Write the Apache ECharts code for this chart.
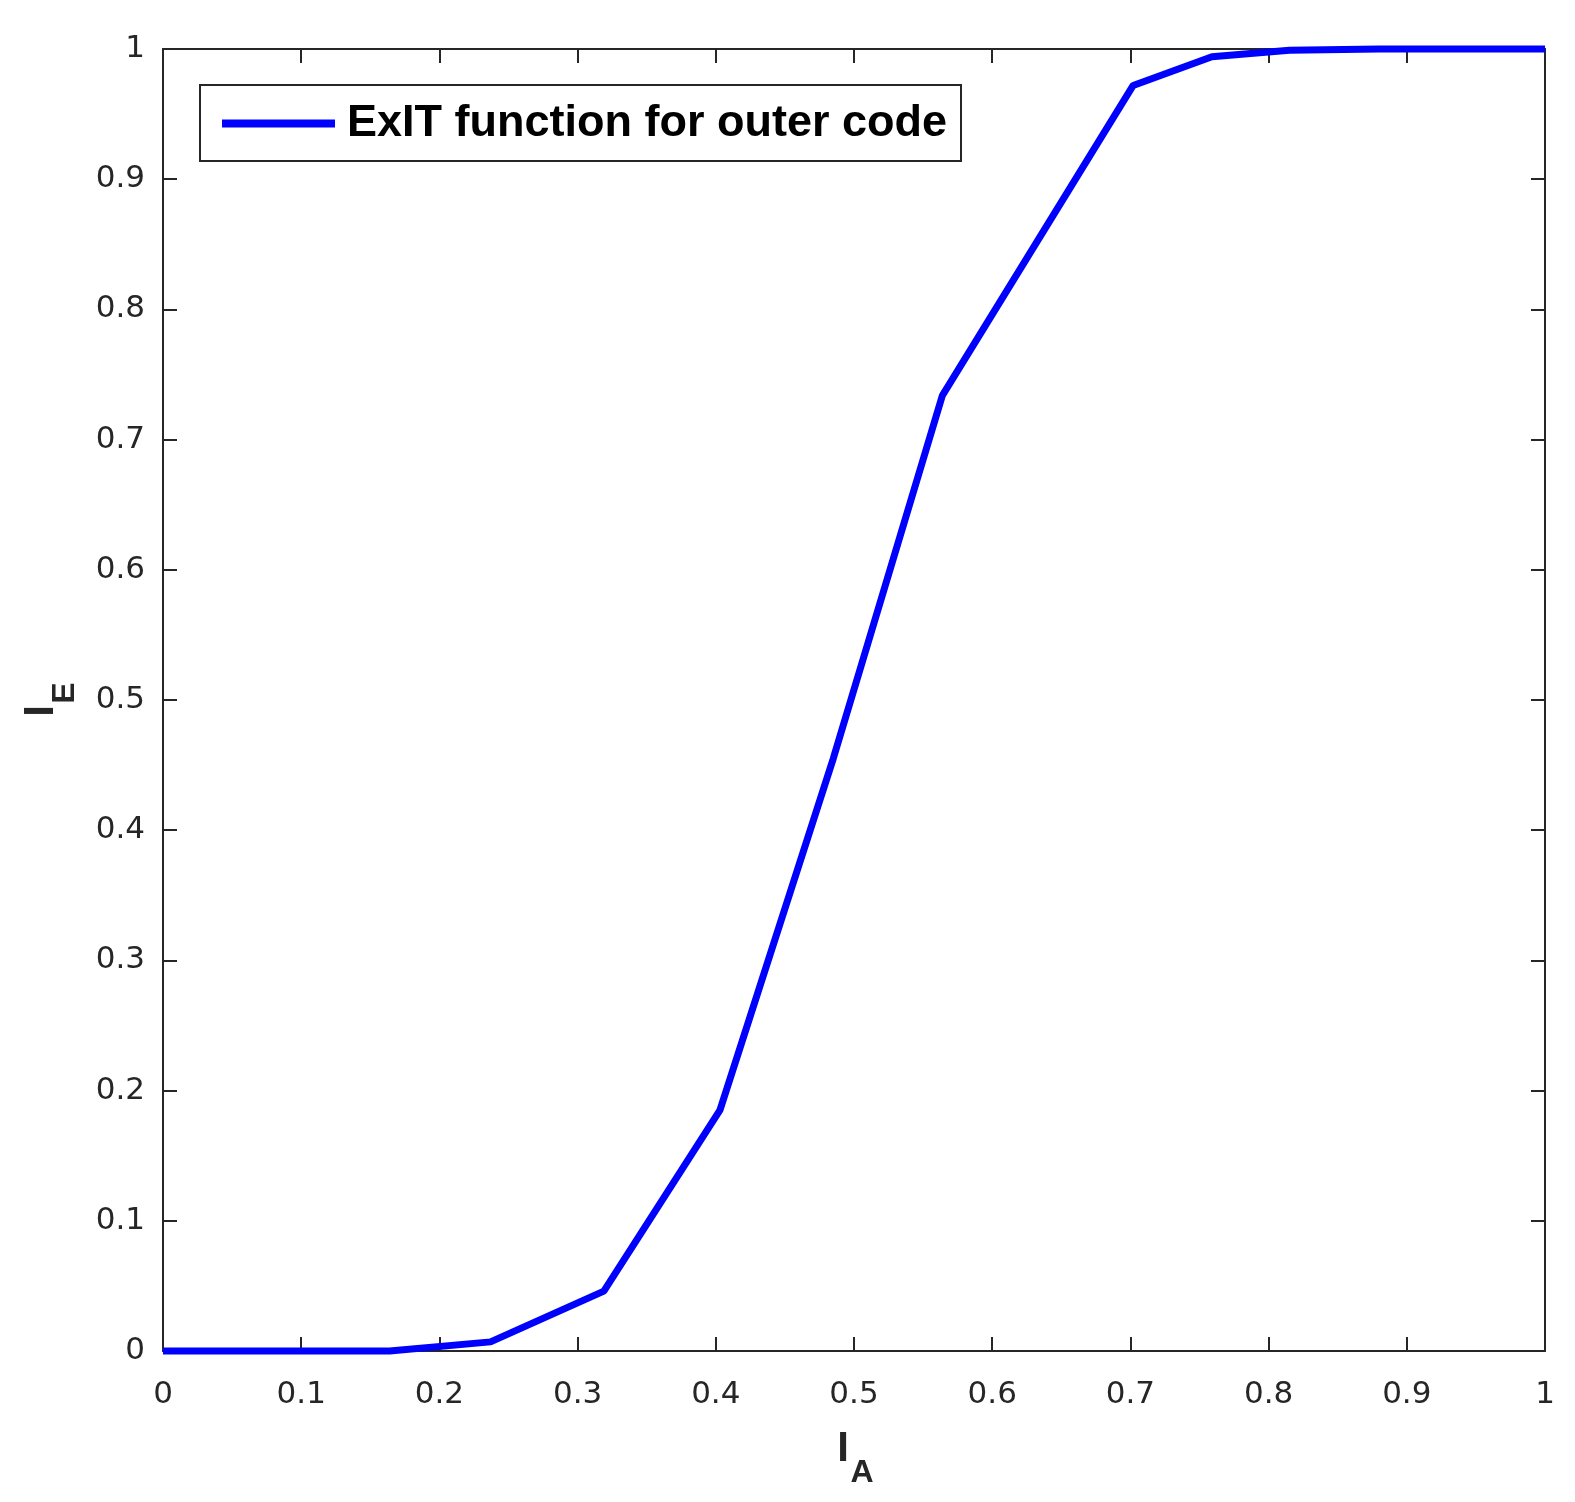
<!DOCTYPE html>
<html>
<head>
<meta charset="utf-8">
<script src="https://cdn.jsdelivr.net/npm/echarts@6/dist/echarts.min.js"></script>
<style>
  html, body { margin: 0; padding: 0; background: #fff; }
  #chart { width: 1575px; height: 1502px; }
</style>
</head>
<body>
<div id="chart"></div>
<script>
// values
var iA = [0, 0.082, 0.164, 0.237, 0.319, 0.403, 0.485, 0.564, 0.633, 0.702, 0.759, 0.815, 0.88, 1.0];
var iE = [0, 0, 0, 0.007, 0.046, 0.185, 0.455, 0.734, 0.853, 0.972, 0.994, 0.999, 1.0, 1.0];
var seriesName = 'ExIT function for outer code';

var axisColor = '#262626';
var font = 'Liberation Sans, Arial, Helvetica, sans-serif';
var tickFont = 'DejaVu Sans, sans-serif';

var points = iA.map(function (x, i) { return [x, iE[i]]; });

function tickFmt(v) {
  return String(Math.round(v * 10) / 10);
}

// shared axis look, ticks pointing inward like the matlab box
function baseAxis(extra) {
  var a = {
    type: 'value',
    min: 0,
    max: 1,
    interval: 0.1,
    splitLine: { show: false },
    axisLine: { show: true, onZero: false, lineStyle: { color: axisColor, width: 2 } },
    axisTick: { show: true, inside: true, length: 14, lineStyle: { color: axisColor, width: 2 } },
    axisLabel: { show: true, color: axisColor, fontSize: 31, fontFamily: tickFont, formatter: tickFmt }
  };
  for (var k in extra) a[k] = extra[k];
  return a;
}

// axis titles: "I" with a subscript letter, drawn as two text pieces
function label(text, x, y, size, rot) {
  return {
    type: 'text',
    x: x,
    y: y,
    rotation: rot || 0,
    style: {
      text: text,
      x: 0,
      y: 0,
      fill: axisColor,
      font: 'bold ' + size + 'px ' + font,
      align: 'center',
      verticalAlign: 'middle'
    }
  };
}

var chart = echarts.init(document.getElementById('chart'));
chart.setOption({
  backgroundColor: '#fff',
  animation: false,
  grid: { left: 163, top: 49, width: 1382, height: 1302, outerBoundsMode: 'none' },
  legend: {
    left: 200,
    top: 85,
    data: [seriesName],
    icon: 'rect',
    itemWidth: 113,
    itemHeight: 8,
    padding: [16, 14, 15, 22],
    borderColor: axisColor,
    borderWidth: 2,
    backgroundColor: '#fff',
    textStyle: { fontSize: 45, fontWeight: 'bold', fontFamily: font, color: '#000', padding: [0, 0, 0, 7] }
  },
  graphic: [
    label('I', 843, 1449, 42),
    label('A', 862, 1473, 32),
    label('I', 41, 711, 42, Math.PI / 2),
    label('E', 65, 693, 32, Math.PI / 2)
  ],
  xAxis: [
    baseAxis({
      position: 'bottom',
      axisLabel: { color: axisColor, fontSize: 31, fontFamily: tickFont, formatter: tickFmt, margin: 28 }
    }),
    baseAxis({ position: 'top', axisLabel: { show: false } })
  ],
  yAxis: [
    baseAxis({
      position: 'left',
      axisLabel: { color: axisColor, fontSize: 31, fontFamily: tickFont, formatter: tickFmt, margin: 18 }
    }),
    baseAxis({ position: 'right', axisLabel: { show: false } })
  ],
  series: [{
    name: seriesName,
    type: 'line',
    data: points,
    showSymbol: false,
    clip: false,
    lineStyle: { color: '#0000ff', width: 7 },
    itemStyle: { color: '#0000ff' }
  }]
});
</script>
</body>
</html>
